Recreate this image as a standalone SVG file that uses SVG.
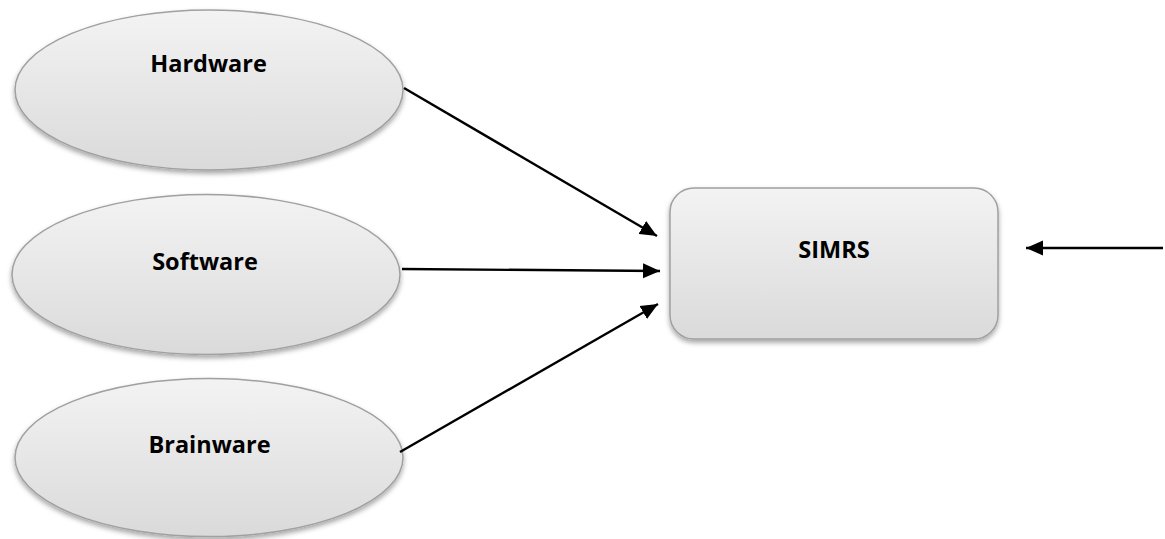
<svg xmlns="http://www.w3.org/2000/svg" width="1165" height="539" viewBox="0 0 1165 539">
  <defs>
    <linearGradient id="shade" x1="0" y1="0" x2="0" y2="1">
      <stop offset="0" stop-color="#f3f3f3"/>
      <stop offset="1" stop-color="#dadada"/>
    </linearGradient>
    <filter id="shadow" x="-10%" y="-10%" width="120%" height="130%">
      <feDropShadow dx="0" dy="3" stdDeviation="2.5" flood-color="#000" flood-opacity="0.35"/>
    </filter>
    <marker id="arrow" markerUnits="userSpaceOnUse" markerWidth="20" markerHeight="16" refX="17" refY="8" orient="auto">
      <path d="M0,0.5 L17,8 L0,15.5 Z" fill="#000"/>
    </marker>
    <style>
      .shape { fill: url(#shade); stroke: #a0a0a0; stroke-width: 1.5; filter: url(#shadow); }
      .label { font-family: "Open Sans", "Liberation Sans", sans-serif; font-weight: bold; font-size: 23.5px; fill: #000; text-anchor: middle; }
      .link { stroke: #000; stroke-width: 2.4; fill: none; marker-end: url(#arrow); }
    </style>
  </defs>

  <g id="hardware">
    <ellipse class="shape" cx="209" cy="90" rx="194" ry="80"/>
    <text class="label" x="208.5" y="72">Hardware</text>
  </g>

  <g id="software">
    <ellipse class="shape" cx="206" cy="274.5" rx="194" ry="80"/>
    <text class="label" x="205" y="270">Software</text>
  </g>

  <g id="brainware">
    <ellipse class="shape" cx="209" cy="457.5" rx="194" ry="79"/>
    <text class="label" x="209.5" y="453">Brainware</text>
  </g>

  <g id="simrs">
    <rect class="shape" x="670" y="188" width="328" height="151" rx="24" ry="24"/>
    <text class="label" x="834" y="258">SIMRS</text>
  </g>

  <g id="connectors">
    <line class="link" x1="404" y1="88" x2="657" y2="236"/>
    <line class="link" x1="402" y1="269" x2="660" y2="271"/>
    <line class="link" x1="400" y1="452" x2="658" y2="304"/>
    <line class="link" x1="1163" y1="248" x2="1026" y2="248"/>
  </g>
</svg>
